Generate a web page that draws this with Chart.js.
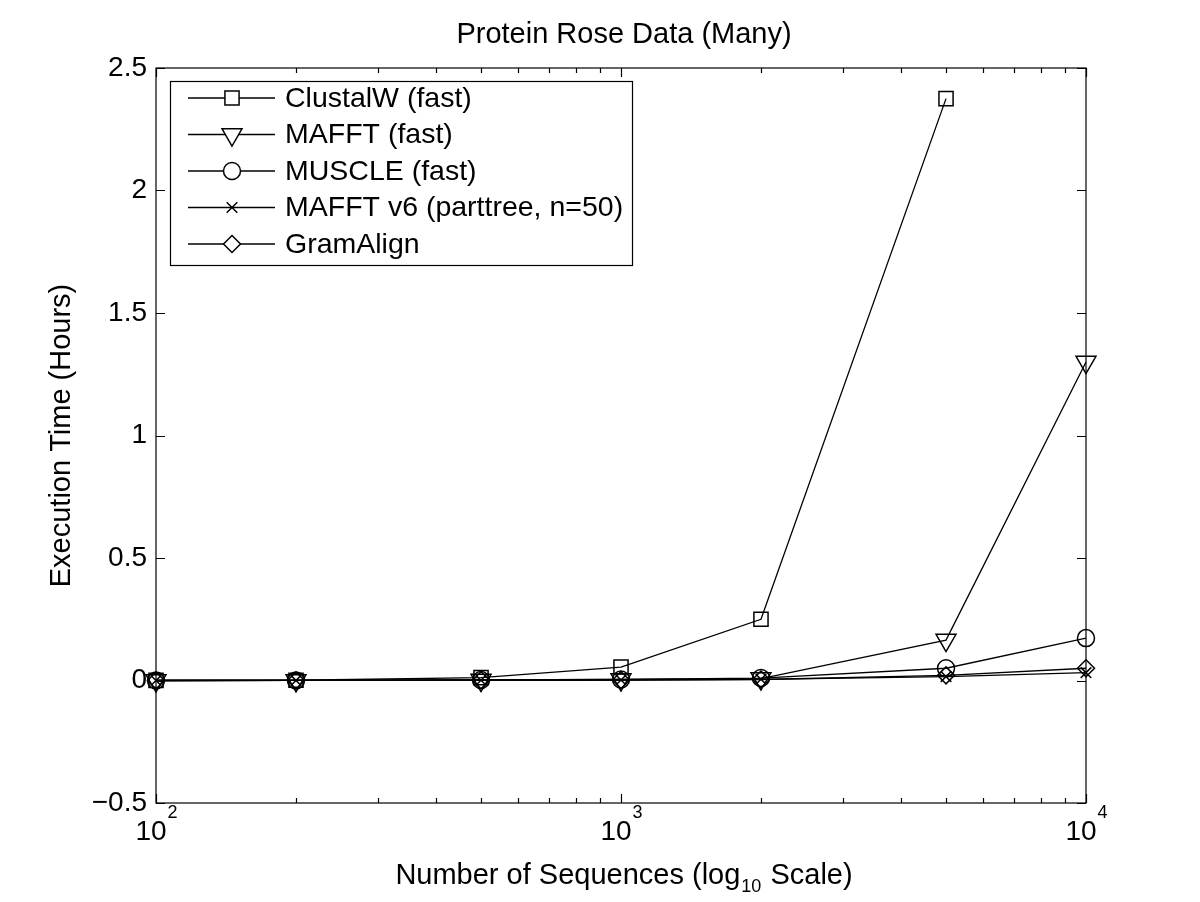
<!DOCTYPE html>
<html>
<head>
<meta charset="utf-8">
<script src="https://cdn.jsdelivr.net/npm/chart.js@4/dist/chart.umd.min.js"></script>
<style>
html,body{margin:0;padding:0;background:#fff;}
#wrap{width:1200px;height:902px;}
</style>
</head>
<body>
<div id="wrap"><canvas id="c" width="1200" height="902"></canvas></div>
<script>
// ---- data ----
const numSequences = [100, 200, 500, 1000, 2000, 5000, 10000];
const clustalW   = [0.0003, 0.001, 0.012, 0.055, 0.25, 2.375, null];
const mafft      = [0.0, 0.0005, 0.002, 0.004, 0.008, 0.165, 1.3];
const muscle     = [0.0, 0.0005, 0.002, 0.004, 0.01, 0.05, 0.173];
const mafftV6    = [0.0, 0.0003, 0.001, 0.002, 0.005, 0.016, 0.032];
const gramAlign  = [0.0, 0.0003, 0.001, 0.002, 0.004, 0.021, 0.05];
const seriesLabels = ['ClustalW (fast)', 'MAFFT (fast)', 'MUSCLE (fast)', 'MAFFT v6 (parttree, n=50)', 'GramAlign'];
const yTicks = [-0.5, 0, 0.5, 1, 1.5, 2, 2.5];
const xMajorTicks = [100, 1000, 10000];
const xMinorTicks = [200,300,400,500,600,700,800,900,2000,3000,4000,5000,6000,7000,8000,9000];
const chartTitle = 'Protein Rose Data (Many)';
const yTitle = 'Execution Time (Hours)';
const xTitleParts = ['Number of Sequences (log', '10', ' Scale)'];

const FONT = '"Liberation Sans", Arial, Helvetica, sans-serif';
const FS = 29;      // titles
const FT = 28;      // tick labels
const FL = 28.5;    // legend
const FE = 18;      // exponents / subscripts

function pts(vals){ return numSequences.map((x,i)=>({x:x, y:vals[i]})); }

const styles = [
  {pointStyle:'rect', radius:10, rotation:0},
  {pointStyle:'triangle', radius:11.5, rotation:180},
  {pointStyle:'circle', radius:8.5, rotation:0},
  {pointStyle:'crossRot', radius:7.5, rotation:0},
  {pointStyle:'rectRot', radius:8.5, rotation:0}
];
const allSeries = [clustalW, mafft, muscle, mafftV6, gramAlign];

const datasets = allSeries.map((s,i)=>({
  label: seriesLabels[i],
  data: pts(s),
  borderColor:'#000',
  backgroundColor:'rgba(0,0,0,0)',
  borderWidth:1.3,
  pointStyle: styles[i].pointStyle,
  pointRadius: styles[i].radius,
  pointRotation: styles[i].rotation,
  pointBorderColor:'#000',
  pointBackgroundColor:'rgba(0,0,0,0)',
  pointBorderWidth:1.5,
  pointHoverRadius: styles[i].radius,
  tension:0,
  spanGaps:false,
  clip:false
}));

const matlabPlugin = {
  id:'matlab',
  afterDraw(chart){
    const ctx = chart.ctx;
    const a = chart.chartArea;
    const xs = chart.scales.x, ys = chart.scales.y;
    ctx.save();
    ctx.strokeStyle = '#000';
    ctx.lineWidth = 1.2;
    ctx.strokeRect(a.left, a.top, a.right - a.left, a.bottom - a.top);
    const tl = 9, tlm = 5;
    ctx.beginPath();
    yTicks.forEach(v=>{
      const py = Math.round(ys.getPixelForValue(v)) + 0.5;
      ctx.moveTo(a.left, py); ctx.lineTo(a.left + tl, py);
      ctx.moveTo(a.right, py); ctx.lineTo(a.right - tl, py);
    });
    xMajorTicks.forEach(v=>{
      const px = Math.round(xs.getPixelForValue(v)) + 0.5;
      ctx.moveTo(px, a.bottom); ctx.lineTo(px, a.bottom - tl);
      ctx.moveTo(px, a.top); ctx.lineTo(px, a.top + tl);
    });
    xMinorTicks.forEach(v=>{
      const px = Math.round(xs.getPixelForValue(v)) + 0.5;
      ctx.moveTo(px, a.bottom); ctx.lineTo(px, a.bottom - tlm);
      ctx.moveTo(px, a.top); ctx.lineTo(px, a.top + tlm);
    });
    ctx.stroke();

    ctx.fillStyle = '#000';
    // y tick labels
    ctx.font = FT + 'px ' + FONT;
    ctx.textAlign = 'right';
    ctx.textBaseline = 'middle';
    yTicks.forEach(v=>{
      const py = ys.getPixelForValue(v);
      const s = (v < 0 ? '\u2212' + String(-v) : String(v));
      ctx.fillText(s, a.left - 9, py);
    });
    // x tick labels 10^n
    xMajorTicks.forEach(v=>{
      const px = xs.getPixelForValue(v);
      const exp = String(Math.round(Math.log10(v)));
      ctx.font = FT + 'px ' + FONT;
      const wb = ctx.measureText('10').width;
      ctx.font = FE + 'px ' + FONT;
      const we = ctx.measureText(exp).width;
      const start = px - (wb + we)/2;
      ctx.textAlign = 'left';
      ctx.textBaseline = 'alphabetic';
      ctx.font = FT + 'px ' + FONT;
      ctx.fillText('10', start, a.bottom + 37);
      ctx.font = FE + 'px ' + FONT;
      ctx.fillText(exp, start + wb + 1, a.bottom + 15);
    });
    // x title with subscript
    ctx.font = FS + 'px ' + FONT;
    const w1 = ctx.measureText(xTitleParts[0]).width;
    const w3 = ctx.measureText(xTitleParts[2]).width;
    ctx.font = FE + 'px ' + FONT;
    const w2 = ctx.measureText(xTitleParts[1]).width;
    const tot = w1 + w2 + w3 + 2;
    const cx = (a.left + a.right)/2;
    let sx = cx - tot/2 + 3;
    const by = a.bottom + 81;
    ctx.textAlign = 'left';
    ctx.textBaseline = 'alphabetic';
    ctx.font = FS + 'px ' + FONT;
    ctx.fillText(xTitleParts[0], sx, by);
    ctx.font = FE + 'px ' + FONT;
    ctx.fillText(xTitleParts[1], sx + w1 + 1, by + 8);
    ctx.font = FS + 'px ' + FONT;
    ctx.fillText(xTitleParts[2], sx + w1 + w2 + 2, by);
    // title
    ctx.textAlign = 'center';
    ctx.textBaseline = 'middle';
    ctx.fillText(chartTitle, cx + 3, 35);
    // y title
    ctx.save();
    ctx.translate(62, (a.top + a.bottom)/2);
    ctx.rotate(-Math.PI/2);
    ctx.textAlign = 'center';
    ctx.textBaseline = 'middle';
    ctx.fillText(yTitle, 0, 0);
    ctx.restore();

    // legend
    const lx = 170, ly = 81, lw = 462, lh = 184;
    ctx.fillStyle = '#fff';
    ctx.fillRect(lx, ly, lw, lh);
    ctx.strokeStyle = '#000';
    ctx.lineWidth = 1.2;
    ctx.strokeRect(lx + 0.5, ly + 0.5, lw, lh);
    const rowY = [98, 134.5, 171, 207.5, 244];
    chart.data.datasets.forEach((ds, i)=>{
      const y = rowY[i];
      ctx.strokeStyle = '#000';
      ctx.lineWidth = 1.3;
      ctx.beginPath();
      ctx.moveTo(188, y); ctx.lineTo(275, y);
      ctx.stroke();
      ctx.fillStyle = '#fff';
      ctx.lineWidth = 1.5;
      Chart.helpers.drawPoint(ctx, {pointStyle: ds.pointStyle, rotation: ds.pointRotation, radius: ds.pointRadius, borderWidth:1.5}, 232, y);
      ctx.fillStyle = '#000';
      ctx.font = FL + 'px ' + FONT;
      ctx.textAlign = 'left';
      ctx.textBaseline = 'middle';
      ctx.fillText(ds.label, 285, y + 1);
    });
    ctx.restore();
  }
};

new Chart(document.getElementById('c'), {
  type:'line',
  data:{ datasets },
  options:{
    responsive:false,
    animation:false,
    devicePixelRatio:1,
    layout:{ padding:{ left:156, right:114, top:68, bottom:99 } },
    plugins:{ legend:{display:false}, title:{display:false}, tooltip:{enabled:false} },
    scales:{
      x:{ type:'logarithmic', min:100, max:10000, display:false },
      y:{ type:'linear', min:-0.5, max:2.5, display:false }
    }
  },
  plugins:[matlabPlugin]
});
</script>
</body>
</html>
